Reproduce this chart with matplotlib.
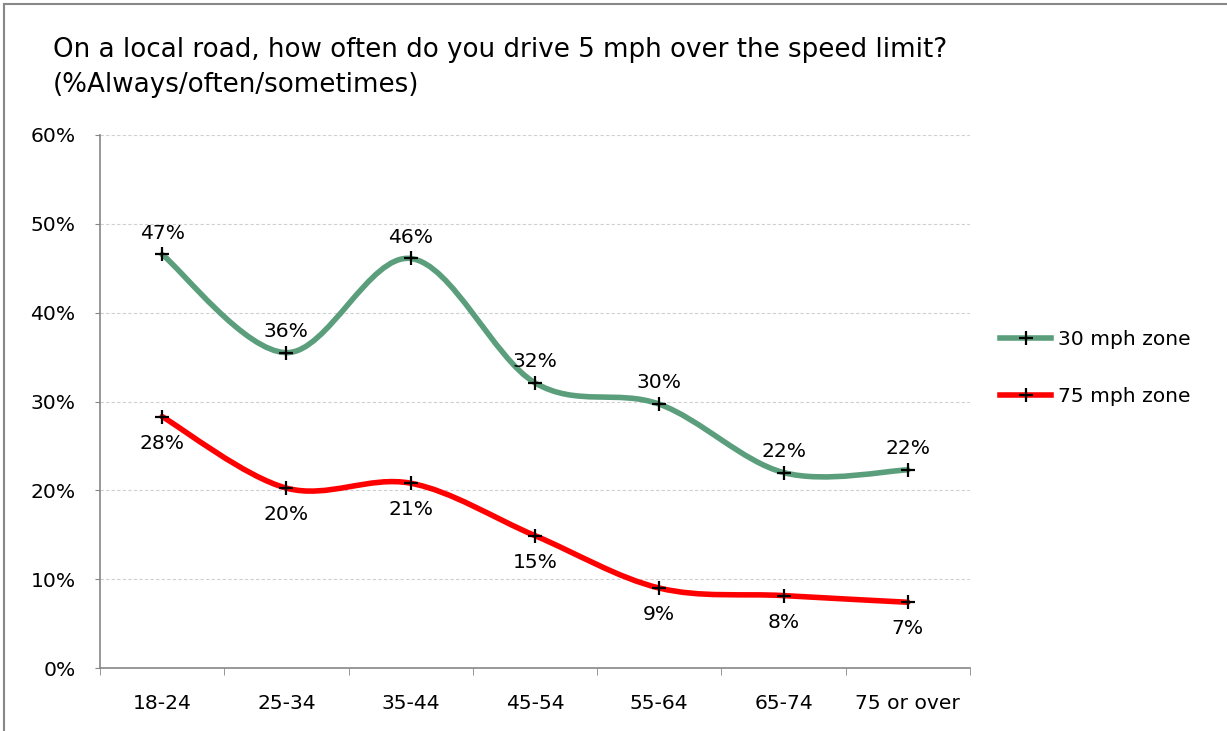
import numpy as np
import matplotlib
matplotlib.use('Agg')
import matplotlib.pyplot as plt
from matplotlib.path import Path
from matplotlib.patches import PathPatch
from matplotlib.lines import Line2D

plt.rcParams['font.family'] = ['DejaVu Sans']

# Data
age_groups = ['18-24', '25-34', '35-44', '45-54', '55-64', '65-74', '75 or over']
zone_30 = [0.4655, 0.355, 0.461, 0.321, 0.297, 0.220, 0.223]
zone_75 = [0.283, 0.2025, 0.208, 0.149, 0.090, 0.0815, 0.074]
labels_30 = ['47%', '36%', '46%', '32%', '30%', '22%', '22%']
labels_75 = ['28%', '20%', '21%', '15%', '9%', '8%', '7%']
yticks = [0, 0.1, 0.2, 0.3, 0.4, 0.5, 0.6]
ytick_labels = ['0%', '10%', '20%', '30%', '40%', '50%', '60%']

title_1 = 'On a local road, how often do you drive 5 mph over the speed limit?'
title_2 = '(%Always/often/sometimes)'

GREEN = '#5a9e7c'
RED = '#ff0000'
FS = 14.6


def smooth_path(xs, ys):
    # Excel-style smoothed line: cubic bezier with catmull-rom control points
    pts = np.column_stack([xs, ys])
    verts = [pts[0]]
    codes = [Path.MOVETO]
    n = len(pts)
    for i in range(n - 1):
        p0 = pts[max(i - 1, 0)]
        p1 = pts[i]
        p2 = pts[i + 1]
        p3 = pts[min(i + 2, n - 1)]
        c1 = p1 + (p2 - p0) / 6.0
        c2 = p2 - (p3 - p1) / 6.0
        verts += [c1, c2, p2]
        codes += [Path.CURVE4] * 3
    return Path(verts, codes)


fig = plt.figure(figsize=(12.27, 7.31), dpi=100)
ax = fig.add_axes([100 / 1227, 1 - 668 / 731, 870 / 1227, 533 / 731])

x = np.arange(len(age_groups))
for vals, col in [(zone_30, GREEN), (zone_75, RED)]:
    patch = PathPatch(smooth_path(x, vals), facecolor='none', edgecolor=col,
                      lw=4.0, capstyle='round', joinstyle='round', zorder=3)
    ax.add_patch(patch)
    ax.plot(x, vals, ls='none', marker='+', ms=10, mew=1.6, color='black', zorder=4)

for xi, v, lab in zip(x, zone_30, labels_30):
    ax.annotate(lab, (xi, v), xytext=(0, 11.5), textcoords='offset points',
                ha='center', va='baseline', fontsize=FS)
for xi, v, lab in zip(x, zone_75, labels_75):
    ax.annotate(lab, (xi, v), xytext=(0, -23), textcoords='offset points',
                ha='center', va='baseline', fontsize=FS)

ax.set_xlim(-0.5, len(age_groups) - 0.5)
ax.set_ylim(0, 0.6)
ax.set_yticks(yticks)
ax.set_yticklabels(ytick_labels, fontsize=FS)
ax.set_xticks(x)
ax.set_xticklabels(age_groups, fontsize=FS)
ax.set_xticks(np.arange(-0.5, len(age_groups), 1), minor=True)
ax.tick_params(axis='x', which='major', length=0, pad=18.5)
ax.tick_params(axis='x', which='minor', length=5, color='#868686', direction='out')
ax.tick_params(axis='y', length=3.6, color='#868686', direction='out', pad=14)

ax.grid(axis='y', color='#d0d0d0', ls=(0, (3, 2)), lw=0.8)
ax.set_axisbelow(True)
for s in ['top', 'right']:
    ax.spines[s].set_visible(False)
for s in ['left', 'bottom']:
    ax.spines[s].set_color('#868686')
    ax.spines[s].set_linewidth(1.2)

handles = [Line2D([], [], color=GREEN, lw=4.0, marker='+', ms=10, mew=1.6,
                  mec='black', label='30 mph zone'),
           Line2D([], [], color=RED, lw=4.0, marker='+', ms=10, mew=1.6,
                  mec='black', label='75 mph zone')]
fig.legend(handles=handles, loc='center left', bbox_to_anchor=(982 / 1227, 1 - 368 / 731),
           frameon=False, fontsize=FS, handlelength=2.5, handletextpad=0.34,
           labelspacing=1.85)

fig.text(53 / 1227, 1 - 57 / 731, title_1, fontsize=18.85, va='baseline', ha='left')
fig.text(53 / 1227, 1 - 92 / 731, title_2, fontsize=18.85, va='baseline', ha='left')

# outer frame
fig.add_artist(Line2D([4 / 1227, 1], [1 - 4 / 731, 1 - 4 / 731], color='#888888', lw=1.5))
fig.add_artist(Line2D([4 / 1227, 4 / 1227], [0, 1 - 4 / 731], color='#888888', lw=1.5))

fig.savefig('out.png', dpi=100)
